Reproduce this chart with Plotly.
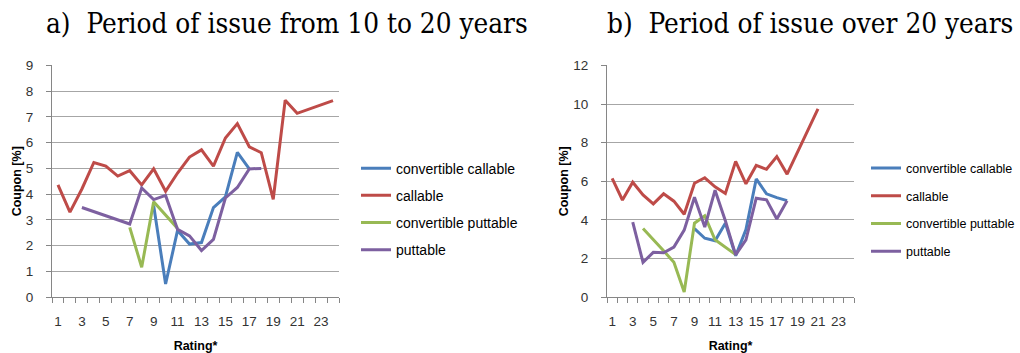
import plotly.graph_objects as go

# Rating categories 1..24
ratings = list(range(1, 25))

# a) Period of issue from 10 to 20 years
a_conv_callable = [None, None, None, None, None, None, None, None, 3.56, 0.51, 2.59, 2.06,
                   2.12, 3.48, 3.89, 5.62, 4.98, None, None, None, None, None, None, None]
a_callable = [4.36, 3.3, 4.2, 5.23, 5.09, 4.7, 4.91, 4.36, 4.98, 4.11, 4.82, 5.44,
              5.72, 5.09, 6.18, 6.74, 5.84, 5.61, 3.8, 7.65, 7.14, None, None, 7.63]
a_conv_puttable = [None, None, None, None, None, None, 2.71, 1.16, 3.7, 3.2, 2.67, None,
                   None, None, None, None, None, None, None, None, None, None, None, None]
a_puttable = [None, None, 3.48, None, None, None, 2.84, 4.24, 3.79, 3.95, 2.63, 2.38,
              1.81, 2.24, 3.85, 4.26, 4.98, 5.0, None, None, None, None, None, None]

# b) Period of issue over 20 years
b_conv_callable = [None, None, None, None, None, None, None, None, 3.55, 3.05, 2.92, 3.83,
                   2.14, 3.5, 6.12, 5.35, 5.15, 5.0, None, None, None, None, None, None]
b_callable = [6.15, 5.03, 5.95, 5.29, 4.83, 5.35, 4.97, 4.29, 5.9, 6.18, 5.71, 5.37,
              7.03, 5.87, 6.82, 6.62, 7.28, 6.37, 7.5, 8.6, 9.75, None, None, None]
b_conv_puttable = [None, None, None, 3.55, 3.0, 2.4, 1.8, 0.27, 3.83, 4.21, 2.97, 2.6,
                   2.2, None, None, None, None, None, None, None, None, None, None, None]
b_puttable = [None, None, 3.88, 1.8, 2.32, 2.3, 2.59, 3.47, 5.17, 3.63, 5.54, 3.96,
              2.19, 2.97, 5.12, 5.04, 4.05, 4.99, None, None, None, None, None, None]

series_names = ["convertible callable", "callable", "convertible puttable", "puttable"]
series_colors = ["#4A7EBB", "#BE4B48", "#98B954", "#7D60A0"]

x_tickvals = list(range(1, 24, 2))
x_ticktext = [str(v) for v in x_tickvals]

fig = go.Figure()

panels = [
    ("x", "y", "legend", [a_conv_callable, a_callable, a_conv_puttable, a_puttable]),
    ("x2", "y2", "legend2", [b_conv_callable, b_callable, b_conv_puttable, b_puttable]),
]
for xa, ya, leg, data in panels:
    for name, color, vals in zip(series_names, series_colors, data):
        fig.add_trace(go.Scatter(
            x=ratings, y=vals, name=name, mode="lines",
            line=dict(color=color, width=3),
            connectgaps=True, xaxis=xa, yaxis=ya, legend=leg,
            legendgroup=leg + name,
        ))

tick_font = dict(family="Liberation Sans, Arial, sans-serif", size=13.5, color="#333333")
title_font = dict(family="Liberation Sans, Arial, sans-serif", size=12.5, color="#000000")

def x_axis(domain, anchor):
    return dict(
        domain=domain, anchor=anchor, range=[0.5, 24.5],
        tickmode="array", tickvals=x_tickvals, ticktext=x_ticktext,
        ticks="", showgrid=False, zeroline=False,
        showline=True, linecolor="#868686", linewidth=1,
        tickfont=tick_font, ticklabelstandoff=12,
        minor=dict(tickmode="array", tickvals=[v + 0.5 for v in range(0, 25)],
                   ticks="outside", ticklen=5, tickcolor="#868686", showgrid=False),
        title=dict(text="<b>Rating*</b>", font=title_font, standoff=14),
    )

def y_axis(domain, anchor, top, step):
    return dict(
        domain=domain, anchor=anchor, range=[0, top], dtick=step,
        showgrid=True, gridcolor="#A6A6A6", gridwidth=1,
        zeroline=False, showline=True, linecolor="#868686", linewidth=1,
        ticks="outside", ticklen=5, tickcolor="#868686",
        tickfont=tick_font, ticklabelstandoff=10,
        title=dict(text="<b>Coupon [%]</b>", font=title_font, standoff=1),
    )

ydom = [1 - 303 / 353, 1 - 61 / 353]

legend_common = dict(
    bgcolor="rgba(0,0,0,0)", itemclick=False,
    xanchor="left", yanchor="top", yref="paper", xref="paper",
)
legend_font = dict(family="Liberation Sans, Arial, sans-serif", color="#000000")

title_style = dict(family="DejaVu Serif Condensed, DejaVu Serif, serif", size=27.7, color="#000000")

fig.update_layout(
    width=1020, height=353,
    margin=dict(l=0, r=0, t=0, b=0),
    paper_bgcolor="white", plot_bgcolor="white",
    xaxis=x_axis([52 / 1020, 339 / 1020], "y"),
    yaxis=y_axis(ydom, "x", 9, 1),
    xaxis2=x_axis([607 / 1020, 854 / 1020], "y2"),
    yaxis2=y_axis(ydom, "x2", 12, 2),
    legend=dict(x=356 / 1020, y=1 - 152 / 353, font=dict(size=14, **legend_font),
                tracegroupgap=6, **legend_common),
    legend2=dict(x=866 / 1020, y=1 - 153 / 353, font=dict(size=12.5, **legend_font),
                 tracegroupgap=8.5, **legend_common),
    annotations=[
        dict(text="a)\u00a0\u00a0Period of issue from 10 to 20 years", x=44 / 1020, y=1 - 17 / 353,
             xref="paper", yref="paper", xanchor="left", yanchor="middle", showarrow=False,
             font=title_style),
        dict(text="b)\u00a0\u00a0Period of issue over 20 years", x=605 / 1020, y=1 - 17 / 353,
             xref="paper", yref="paper", xanchor="left", yanchor="middle", showarrow=False,
             font=title_style),
    ],
)

fig.write_html("out.html")
